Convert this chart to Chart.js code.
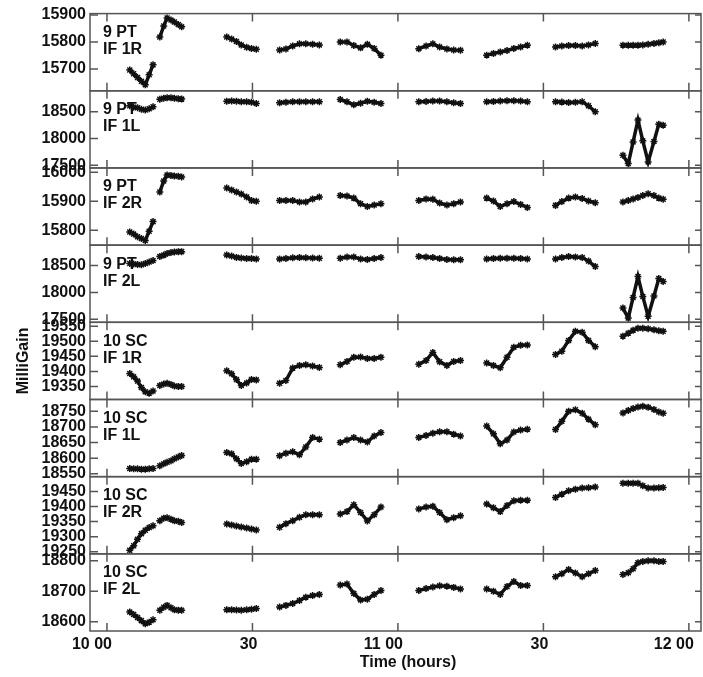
<!DOCTYPE html>
<html>
<head>
<meta charset="utf-8">
<title>MilliGain vs time</title>
<script src="https://cdn.jsdelivr.net/npm/chart.js@4.4.1/dist/chart.umd.min.js"></script>
<style>
    html, body { margin: 0; padding: 0; background: #fff; }
    #wrap { width: 703px; height: 677px; }
</style>
</head>
<body>
<div id="wrap"><canvas id="gainChart" width="703" height="677"></canvas></div>
<script>
// Tempo de cada varredura, em minutos depois das 10:00
const scanTimes = [
    [4.7, 5.5, 6.3, 7.1, 7.9, 8.7, 9.5],
    [10.9, 11.7, 12.4, 13.2, 13.9, 14.7, 15.4],
    [24.7, 25.7, 26.7, 27.7, 28.8, 29.8, 30.8],
    [35.6, 36.9, 38.3, 39.7, 41.0, 42.4, 43.8],
    [48.1, 49.5, 50.9, 52.3, 53.7, 55.1, 56.5],
    [64.3, 65.8, 67.2, 68.6, 70.1, 71.5, 72.9],
    [78.3, 79.7, 81.1, 82.5, 83.9, 85.3, 86.7],
    [92.5, 93.8, 95.2, 96.6, 98.0, 99.3, 100.7],
    [106.4, 107.5, 108.5, 109.5, 110.5, 111.6, 112.8, 113.8, 114.7]
];

const pt9IF1R = [
    [15696, 15682, 15668, 15654, 15641, 15678, 15715],
    [15818, 15859, 15889, 15881, 15874, 15865, 15856],
    [15818, 15811, 15802, 15789, 15780, 15776, 15773],
    [15770, 15774, 15785, 15793, 15793, 15791, 15789],
    [15800, 15800, 15787, 15778, 15791, 15776, 15751],
    [15775, 15785, 15793, 15781, 15774, 15770, 15769],
    [15751, 15757, 15763, 15768, 15776, 15781, 15788],
    [15781, 15785, 15787, 15787, 15785, 15789, 15794],
    [15788, 15788, 15788, 15788, 15789, 15791, 15794, 15797, 15800]
];
const pt9IF1L = [
    [18612, 18584, 18575, 18547, 18532, 18556, 18594],
    [18734, 18753, 18762, 18762, 18753, 18744, 18737],
    [18697, 18700, 18697, 18687, 18687, 18678, 18655],
    [18669, 18678, 18687, 18687, 18687, 18687, 18687],
    [18730, 18687, 18631, 18659, 18697, 18678, 18655],
    [18687, 18692, 18700, 18700, 18687, 18669, 18655],
    [18687, 18692, 18700, 18706, 18706, 18700, 18687],
    [18687, 18681, 18674, 18678, 18687, 18612, 18500],
    [17689, 17532, 17938, 18345, 17957, 17564, 17947, 18268, 18251]
];
const pt9IF2R = [
    [15794, 15787, 15778, 15772, 15765, 15797, 15830],
    [15932, 15970, 15991, 15989, 15987, 15986, 15984],
    [15946, 15939, 15932, 15925, 15915, 15903, 15900],
    [15903, 15903, 15903, 15898, 15898, 15908, 15915],
    [15920, 15918, 15911, 15892, 15882, 15887, 15892],
    [15903, 15908, 15907, 15894, 15887, 15892, 15898],
    [15911, 15901, 15882, 15892, 15899, 15889, 15879],
    [15886, 15899, 15911, 15915, 15910, 15901, 15895],
    [15898, 15903, 15908, 15913, 15920, 15926, 15920, 15911, 15907]
];
const pt9IF2L = [
    [18537, 18528, 18519, 18513, 18537, 18565, 18593],
    [18667, 18694, 18722, 18741, 18750, 18759, 18759],
    [18698, 18676, 18652, 18639, 18633, 18630, 18624],
    [18624, 18630, 18643, 18648, 18643, 18639, 18635],
    [18635, 18657, 18661, 18620, 18611, 18630, 18648],
    [18667, 18657, 18648, 18630, 18611, 18606, 18606],
    [18624, 18630, 18635, 18635, 18635, 18630, 18624],
    [18624, 18648, 18667, 18661, 18648, 18583, 18481],
    [17709, 17524, 17907, 18296, 17926, 17555, 17935, 18259, 18204]
];
const sc10IF1R = [
    [19393, 19382, 19368, 19347, 19333, 19328, 19335],
    [19353, 19358, 19361, 19357, 19352, 19350, 19350],
    [19402, 19392, 19373, 19353, 19362, 19373, 19372],
    [19361, 19370, 19411, 19420, 19422, 19418, 19413],
    [19422, 19433, 19447, 19448, 19443, 19443, 19447],
    [19424, 19436, 19463, 19432, 19420, 19433, 19436],
    [19428, 19420, 19412, 19447, 19480, 19487, 19488],
    [19456, 19467, 19503, 19533, 19530, 19503, 19482],
    [19517, 19527, 19537, 19543, 19543, 19542, 19538, 19535, 19533]
];
const sc10IF1L = [
    [18567, 18566, 18566, 18565, 18565, 18566, 18567],
    [18576, 18582, 18587, 18592, 18598, 18604, 18609],
    [18618, 18614, 18598, 18583, 18589, 18597, 18597],
    [18608, 18616, 18621, 18611, 18636, 18666, 18661],
    [18650, 18658, 18666, 18658, 18652, 18671, 18682],
    [18666, 18673, 18680, 18685, 18685, 18677, 18671],
    [18703, 18678, 18646, 18658, 18684, 18690, 18693],
    [18692, 18718, 18750, 18755, 18744, 18725, 18707],
    [18745, 18753, 18759, 18764, 18766, 18763, 18756, 18748, 18744]
];
const sc10IF2R = [
    [19255, 19270, 19291, 19310, 19321, 19330, 19336],
    [19353, 19361, 19363, 19358, 19353, 19351, 19347],
    [19342, 19339, 19335, 19332, 19329, 19325, 19322],
    [19331, 19343, 19353, 19364, 19373, 19373, 19373],
    [19375, 19383, 19406, 19380, 19352, 19373, 19398],
    [19392, 19398, 19401, 19380, 19356, 19363, 19369],
    [19408, 19396, 19383, 19403, 19419, 19421, 19421],
    [19430, 19441, 19452, 19457, 19461, 19462, 19465],
    [19477, 19477, 19477, 19477, 19469, 19461, 19461, 19462, 19463]
];
const sc10IF2L = [
    [18632, 18624, 18614, 18604, 18594, 18599, 18607],
    [18638, 18648, 18654, 18646, 18640, 18638, 18638],
    [18640, 18640, 18639, 18638, 18640, 18641, 18644],
    [18649, 18654, 18660, 18670, 18681, 18686, 18690],
    [18721, 18724, 18693, 18672, 18674, 18690, 18703],
    [18703, 18709, 18714, 18718, 18717, 18713, 18708],
    [18708, 18700, 18690, 18716, 18732, 18719, 18719],
    [18748, 18758, 18772, 18760, 18748, 18758, 18768],
    [18755, 18761, 18774, 18794, 18798, 18800, 18800, 18798, 18798]
];

// Painéis de cima para baixo
const panelValues = [pt9IF1R, pt9IF1L, pt9IF2R, pt9IF2L, sc10IF1R, sc10IF1L, sc10IF2R, sc10IF2L];
const panelLabels = [
    ['9 PT', 'IF 1R'], ['9 PT', 'IF 1L'], ['9 PT', 'IF 2R'], ['9 PT', 'IF 2L'],
    ['10 SC', 'IF 1R'], ['10 SC', 'IF 1L'], ['10 SC', 'IF 2R'], ['10 SC', 'IF 2L']
];
const axisLimits = [
    [15619, 15905], [17451, 18893], [15749, 16015], [17444, 18880],
    [19307, 19563], [18541, 18788], [19243, 19499], [18570, 18823]
];
const yTicks = [
    [15700, 15800, 15900],
    [17500, 18000, 18500],
    [15800, 15900, 16000],
    [17500, 18000, 18500],
    [19350, 19400, 19450, 19500, 19550],
    [18550, 18600, 18650, 18700, 18750],
    [19250, 19300, 19350, 19400, 19450],
    [18600, 18700, 18800]
];
const timeTicks = [0, 30, 60, 90, 120];
const timeTickLabels = ['10 00', '30', '11 00', '30', '12 00'];
const timeTitle = 'Time (hours)';

const FONT = '"Liberation Sans", Arial, Helvetica, sans-serif';
Chart.defaults.font.family = FONT;
Chart.defaults.font.size = 16;
Chart.defaults.font.weight = 'bold';
Chart.defaults.color = '#111';

// Junta as varreduras de um painel, com null entre elas para cortar a linha
function buildPoints(groups) {
    const pts = [];
    groups.forEach((vals, g) => {
        if (g > 0) pts.push({ x: scanTimes[g][0], y: null });
        vals.forEach((v, j) => pts.push({ x: scanTimes[g][j], y: v }));
    });
    return pts;
}

// Molduras, marcas internas e rótulos dos painéis (estilo IDL)
const panelFrames = {
    id: 'panelFrames',
    beforeDatasetsDraw(chart) {
        const { ctx, chartArea } = chart;
        ctx.save();
        ctx.font = 'bold 16px ' + FONT;
        ctx.fillStyle = '#111';
        ctx.textBaseline = 'middle';
        panelLabels.forEach((lines, i) => {
            const s = chart.scales['y' + i];
            lines.forEach((t, k) => ctx.fillText(t, chartArea.left + 13, s.top + 19 + k * 17));
        });
        // titulo do eixo x, um pouco à direita do centro como no original
        ctx.textAlign = 'center';
        ctx.fillText(timeTitle, chartArea.left + 318, chart.height - 14);
        ctx.restore();
    },
    afterDatasetsDraw(chart) {
        const { ctx, chartArea: { left, right } } = chart;
        const xs = chart.scales.x;
        ctx.save();
        ctx.strokeStyle = '#555';
        ctx.lineWidth = 1.5;
        panelLabels.forEach((_, i) => {
            const s = chart.scales['y' + i];
            ctx.strokeRect(left, s.top, right - left, s.bottom - s.top);
            ctx.beginPath();
            s.ticks.forEach(t => {
                const y = s.getPixelForValue(t.value);
                ctx.moveTo(left, y); ctx.lineTo(left + 8, y);
                ctx.moveTo(right, y); ctx.lineTo(right - 6, y);
            });
            xs.ticks.forEach(t => {
                const x = xs.getPixelForValue(t.value);
                ctx.moveTo(x, s.top); ctx.lineTo(x, s.top + 8);
                ctx.moveTo(x, s.bottom); ctx.lineTo(x, s.bottom - 8);
            });
            ctx.stroke();
        });
        ctx.restore();
    }
};

function createGainChart() {
    const scales = {
        x: {
            type: 'linear',
            position: 'bottom',
            min: -3.5,
            max: 122.5,
            afterBuildTicks: s => { s.ticks = timeTicks.map(v => ({ value: v })); },
            afterFit: s => { s.height = 46; s.paddingLeft = 0; s.paddingRight = 0; },
            ticks: {
                autoSkip: false,
                maxRotation: 0,
                align: 'end',
                labelOffset: 5,
                padding: 4,
                callback: (v, i) => timeTickLabels[i]
            },
            grid: { display: false, drawTicks: false },
            border: { display: false }
        }
    };

    // os eixos empilhados vão de baixo para cima, então criamos do último painel ao primeiro
    for (let i = panelValues.length - 1; i >= 0; i--) {
        scales['y' + i] = {
            type: 'linear',
            position: 'left',
            stack: 'panels',
            stackWeight: 1,
            min: axisLimits[i][0],
            max: axisLimits[i][1],
            afterBuildTicks: s => { s.ticks = yTicks[i].map(v => ({ value: v })); },
            afterFit: s => { s.width = 90; },
            ticks: { autoSkip: false, padding: 4, callback: v => String(v) },
            grid: { display: false, drawTicks: false },
            border: { display: false },
            title: {
                display: i === 4,
                text: 'MilliGain',
                padding: { top: 14, bottom: 0 }
            }
        };
    }

    const datasets = panelValues.map((groups, i) => ({
        label: panelLabels[i].join(' '),
        data: buildPoints(groups),
        yAxisID: 'y' + i,
        xAxisID: 'x',
        borderColor: '#111',
        borderWidth: 3.5,
        pointStyle: 'star',
        pointRadius: 3.5,
        pointBorderWidth: 1.5,
        pointBorderColor: '#111',
        pointBackgroundColor: '#111',
        spanGaps: false,
        tension: 0
    }));

    new Chart(document.getElementById('gainChart'), {
        type: 'line',
        data: { datasets },
        options: {
            responsive: false,
            animation: false,
            events: [],
            layout: { autoPadding: false, padding: { top: 12, right: 2, left: 0, bottom: 0 } },
            plugins: { legend: { display: false }, tooltip: { enabled: false } },
            scales
        },
        plugins: [panelFrames]
    });
}

document.addEventListener('DOMContentLoaded', createGainChart);
</script>
</body>
</html>
